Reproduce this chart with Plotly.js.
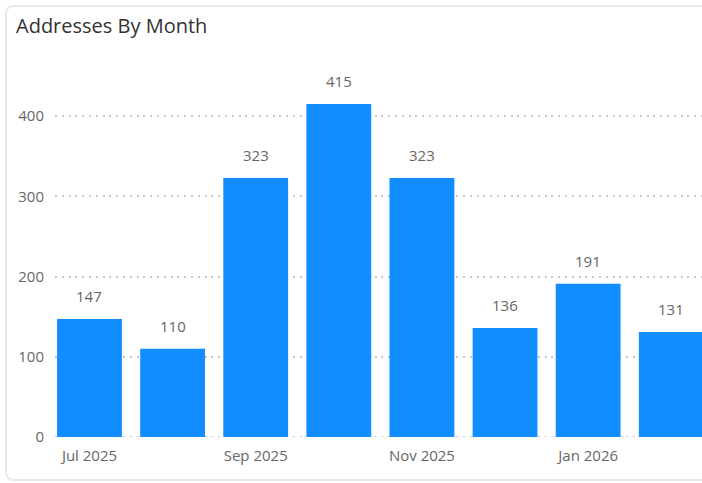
<!DOCTYPE html>
<html>
<head>
<meta charset="utf-8">
<script src="https://cdn.plot.ly/plotly-3.0.1.min.js"></script>
<style>
  html, body { margin: 0; padding: 0; background: #ffffff; }
  #wrap { position: relative; width: 702px; height: 483px; overflow: hidden; }
  #card { position: absolute; left: 5px; top: 5px; width: 760px; height: 476px;
          border: 2px solid #e9e9e9; border-radius: 8px; box-sizing: border-box; }
  #chart { position: absolute; left: 0; top: 0; width: 702px; height: 483px; }
</style>
</head>
<body>
<div id="wrap">
  <div id="card"></div>
  <div id="chart"></div>
</div>
<script>
const months = ["Jul 2025", "Aug 2025", "Sep 2025", "Oct 2025", "Nov 2025", "Dec 2025", "Jan 2026", "Feb 2026"];
const addresses = [147, 110, 323, 415, 323, 136, 191, 131];
const xTickLabels = ["Jul 2025", "", "Sep 2025", "", "Nov 2025", "", "Jan 2026", ""];
const yTicks = [0, 100, 200, 300, 400];

const idx = months.map((m, i) => i);
const font = "'Open Sans', 'Noto Sans', sans-serif";
const dotDash = "2px,4.8px";

const trace = {
  type: "bar",
  x: idx,
  y: addresses,
  marker: { color: "#118DFF" },
  hoverinfo: "skip",
  width: 0.78
};

const annotations = addresses.map((v, i) => ({
  x: idx[i], y: v, xref: "x", yref: "y",
  text: String(v), showarrow: false,
  yanchor: "bottom", yshift: 11,
  font: { family: font, size: 15, color: "#666666" }
}));

const layout = {
  width: 702, height: 483,
  margin: { l: 55, r: 0, t: 76, b: 46 },
  paper_bgcolor: "rgba(0,0,0,0)",
  plot_bgcolor: "rgba(0,0,0,0)",
  showlegend: false,
  title: {
    text: "Addresses By Month",
    xref: "container", yref: "container",
    x: 16 / 702, xanchor: "left",
    y: 1 - 26 / 483, yanchor: "middle",
    font: { family: font, size: 20, color: "#333333" }
  },
  xaxis: {
    range: [-0.415, 7.37],
    tickmode: "array",
    tickvals: idx,
    ticktext: xTickLabels,
    showgrid: false, zeroline: false, showline: false,
    ticks: "",
    ticklabelstandoff: 8,
    tickfont: { family: font, size: 15, color: "#666666" },
    fixedrange: true
  },
  yaxis: {
    range: [0, 450],
    tickmode: "array",
    tickvals: yTicks,
    ticktext: yTicks.map(String),
    showgrid: true,
    gridcolor: "#c9c9c9",
    gridwidth: 2,
    griddash: dotDash,
    zeroline: false, showline: false,
    ticks: "",
    ticklabelstandoff: 10,
    tickfont: { family: font, size: 15, color: "#666666" },
    fixedrange: true
  },
  shapes: [{
    type: "line", xref: "paper", yref: "y",
    x0: 0, x1: 1, y0: 0, y1: 0,
    layer: "below",
    line: { color: "#c9c9c9", width: 2, dash: dotDash }
  }],
  annotations: annotations,
  bargap: 0.22
};

Plotly.newPlot("chart", [trace], layout, { displayModeBar: false, staticPlot: true });
</script>
</body>
</html>
